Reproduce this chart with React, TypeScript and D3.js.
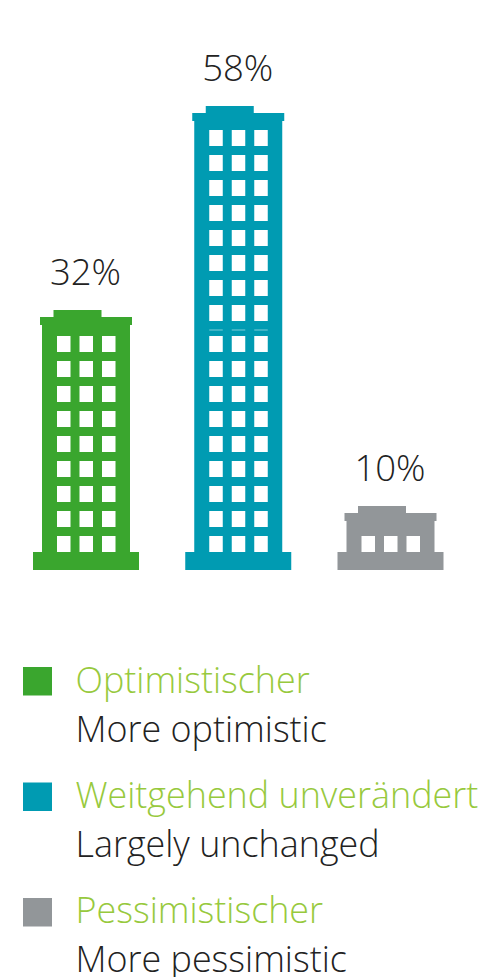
import React, { useEffect, useRef } from "react";
import * as d3 from "d3";

const values = [32, 58, 10];
const floors = [9, 17, 1];
const colors = ["#3aa62e", "#009bb2", "#929699"];
const germanLabels = ["Optimistischer", "Weitgehend unverändert", "Pessimistischer"];
const englishLabels = ["More optimistic", "Largely unchanged", "More pessimistic"];

const FONT = "'Open Sans', sans-serif";

const App = () => {
  const ref = useRef<SVGSVGElement | null>(null);

  useEffect(() => {
    const svg = d3.select(ref.current);
    svg.selectAll("*").remove();

    const x = d3.scalePoint<number>().domain([0, 1, 2]).range([86, 390.5]);
    // floor number -> top of that row of windows, counted from the ground floor
    const floorY = d3.scaleLinear().domain([0, 1]).range([536, 511]);
    const windowOffsets = [-29, -6.5, 16];
    const roofGap = [11, 9, 15];
    const groundY = 570;
    const plinthY = 552;

    // the tall building is two stacked blocks with a small jump between them
    const rowTop = (row: number) => floorY(row) - (row >= 9 ? 6 : 0);

    floors.forEach((count, i) => {
      const g = svg.append("g").attr("fill", colors[i]);
      const cx = x(i) as number;
      const topRow = rowTop(count - 1);
      const roofBottom = topRow - roofGap[i];
      const roofTop = roofBottom - 8;
      const capTop = roofTop - 7;

      g.append("rect").attr("x", cx - 53).attr("y", plinthY).attr("width", 106).attr("height", groundY - plinthY);
      g.append("rect").attr("x", cx - 44).attr("y", roofBottom).attr("width", 88).attr("height", plinthY - roofBottom);
      g.append("rect").attr("x", cx - 46).attr("y", roofTop).attr("width", 92).attr("height", 8);
      g.append("rect").attr("x", cx - 32.5).attr("y", capTop).attr("width", 48).attr("height", 7);

      g.selectAll(".win")
        .data(d3.range(count))
        .enter()
        .append("g")
        .selectAll("rect")
        .data((row) => windowOffsets.map((dx) => ({ row, dx })))
        .enter()
        .append("rect")
        .attr("x", (d) => cx + d.dx)
        .attr("y", (d) => rowTop(d.row))
        .attr("width", 13.5)
        .attr("height", 16)
        .attr("fill", "#ffffff");

      if (count > 9) {
        g.selectAll(".seam")
          .data(windowOffsets)
          .enter()
          .append("rect")
          .attr("x", (dx) => cx + dx)
          .attr("y", 329.5)
          .attr("width", 13.5)
          .attr("height", 1)
          .attr("fill", "#ffffff")
          .attr("opacity", 0.5);
      }

      svg
        .append("text")
        .attr("x", cx - 0.5)
        .attr("y", capTop - 25)
        .attr("text-anchor", "middle")
        .attr("font-family", FONT)
        .attr("font-weight", 300)
        .attr("font-size", 36.5)
        .attr("fill", "#222222")
        .text(`${values[i]}%`);
    });

    // Legend
    const swatchY = d3.scaleLinear().domain([0, 1]).range([667, 782.5]);
    const germanY = d3.scaleLinear().domain([0, 1]).range([693, 808]);
    const englishY = d3.scaleLinear().domain([0, 1]).range([742, 857]);
    germanLabels.forEach((label, i) => {
      svg.append("rect").attr("x", 23).attr("y", swatchY(i)).attr("width", 29).attr("height", 28.5).attr("fill", colors[i]);
      svg
        .append("text")
        .attr("x", 75.5)
        .attr("y", germanY(i))
        .attr("font-family", FONT)
        .attr("font-weight", 300)
        .attr("font-size", 35.9)
        .attr("fill", "#97c93d")
        .text(label);
      svg
        .append("text")
        .attr("x", 75.5)
        .attr("y", englishY(i))
        .attr("font-family", FONT)
        .attr("font-weight", 300)
        .attr("font-size", 35.9)
        .attr("fill", "#222222")
        .text(englishLabels[i]);
    });
  }, []);

  return (
    <svg
      ref={ref}
      width={478}
      height={977}
      style={{ position: "absolute", left: 0, top: 0, background: "#ffffff" }}
    />
  );
};

export default App;
